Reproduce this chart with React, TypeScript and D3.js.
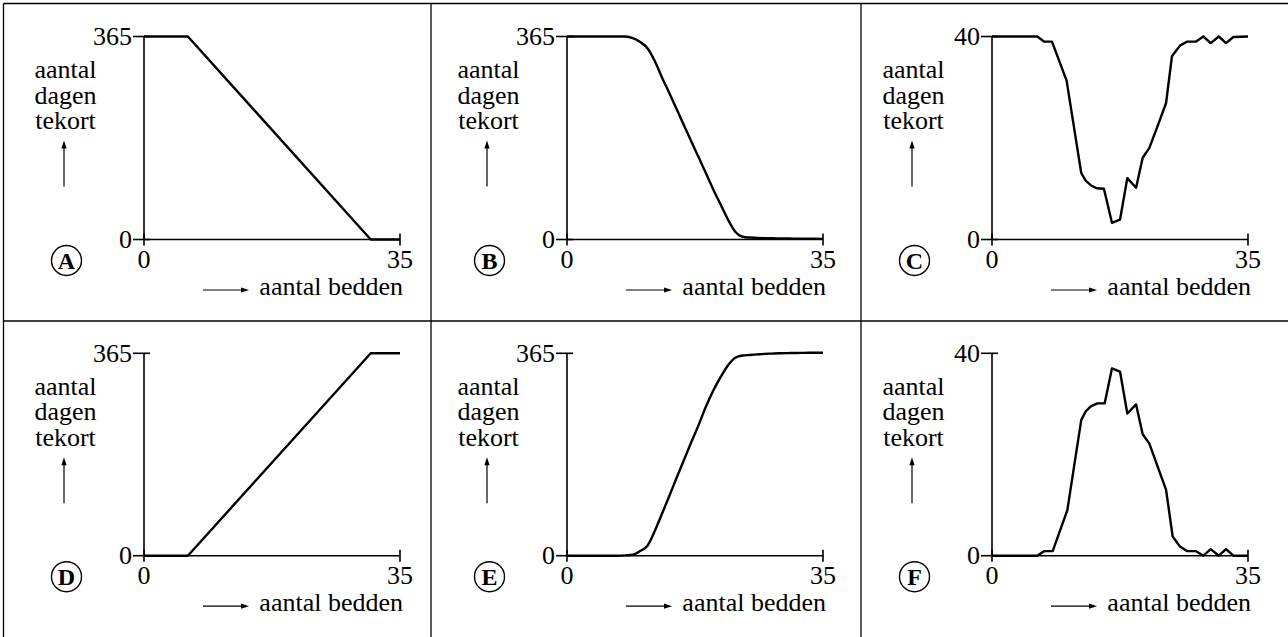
import * as d3 from "d3";

// bedden (x) en dagen tekort (y)
const panelA: [number, number][] = [[0, 365], [6, 365], [31, 0], [35, 0]];
const panelD: [number, number][] = [[0, 0], [6, 0], [31, 365], [35, 365]];

const bedsBE = [0, 1, 2, 3, 4, 5, 6, 7, 8, 9, 10, 11, 12, 13, 14, 15, 16, 17, 18, 19, 20, 21, 22, 23, 24, 25, 26, 27, 28, 29, 30, 31, 32, 33, 34, 35];
const valuesB = [365, 365, 365, 365, 365, 365, 365, 365, 365, 362, 355, 344, 321, 291, 263, 234, 205, 176, 148, 119, 90, 63, 36, 14, 5, 3.5, 3, 2.5, 2.2, 2, 1.8, 1.6, 1.5, 1.4, 1.3, 1.2];
const valuesE = [0, 0, 0, 0, 0, 0, 0, 0, 0.6, 1.8, 8.4, 18, 44.5, 76, 108, 141, 173, 205, 236, 269, 298, 322, 343, 357, 361, 362, 363, 364, 364.5, 365, 365.3, 365.5, 365.7, 366, 366, 366];

const bedsC = [0, 6.2, 7.1, 8.2, 10.2, 12.2, 12.8, 13.5, 14.3, 15.3, 16.4, 17.5, 18.5, 19.7, 20.6, 21.5, 22.6, 23.8, 24.6, 25.7, 26.7, 27.9, 28.9, 29.9, 31, 32, 33, 35];
const valuesC = [40, 40, 39, 39, 31.3, 13.1, 11.6, 10.7, 10.1, 10, 3.3, 3.9, 12.1, 10.2, 16.1, 18, 22.2, 26.9, 36.1, 38.2, 39, 39, 40, 38.7, 40, 38.7, 39.9, 40];

const bedsF = [0, 6.2, 7.1, 8.3, 10.3, 12.2, 12.8, 13.5, 14.4, 15.4, 16.4, 17.5, 18.5, 19.7, 20.6, 21.5, 22.6, 23.8, 24.7, 25.7, 26.7, 27.9, 28.9, 29.9, 31, 32, 33, 35];
const valuesF = [0, 0, 0.9, 0.9, 9, 26.8, 28.5, 29.5, 30.1, 30.1, 37, 36.4, 28.1, 29.9, 24, 22.2, 17.8, 13, 3.8, 1.8, 0.9, 0.9, 0, 1.3, 0, 1.3, 0, 0];

const letters = ["A", "B", "C", "D", "E", "F"];
const maxima = [365, 365, 40, 365, 365, 40];
const xMax = 35;

const zip = (xs: number[], ys: number[]) => xs.map((x, i) => [x, ys[i]] as [number, number]);

const series = [
  panelA,
  zip(bedsBE, valuesB),
  zip(bedsC, valuesC),
  panelD,
  zip(bedsBE, valuesE),
  zip(bedsF, valuesF),
];
const smooth = [false, true, false, false, true, false];

const axisX = [144, 567, 992];
const axisTop = [36.5, 353.3];
const axisBottom = [239.5, 555.7];
const plotW = 256;

const font = "Liberation Serif, Times New Roman, Times, serif";
const fs = 26;
const txt = { fontFamily: font, fontSize: fs };

function Panel({ i }: { i: number }) {
  const col = i % 3;
  const row = Math.floor(i / 3);
  const ox = axisX[col];
  const top = axisTop[row];
  const bot = axisBottom[row];
  const x = d3.scaleLinear().domain([0, xMax]).range([ox, ox + plotW]);
  const y = d3.scaleLinear().domain([0, maxima[i]]).range([bot, top]);
  const line = d3
    .line<[number, number]>()
    .x((d) => x(d[0]))
    .y((d) => y(d[1]))
    .curve(smooth[i] ? d3.curveMonotoneX : d3.curveLinear);

  const yTicks = [0, maxima[i]];
  const xTicks = [0, xMax];
  const ax = ox - 80;
  const arY = bot + 50.5;

  return (
    <g>
      {/* assen */}
      <line x1={x(0)} x2={x(xMax)} y1={y(0)} y2={y(0)} stroke="#000" strokeWidth={1.6} />
      <line x1={x(0)} x2={x(0)} y1={y(0)} y2={y(maxima[i])} stroke="#000" strokeWidth={1.6} />
      {yTicks.map((t) => (
        <g key={"y" + t}>
          <line x1={ox - 11} x2={ox + 6} y1={y(t)} y2={y(t)} stroke="#000" strokeWidth={1.6} />
          <text x={ox - 12} y={y(t) + 8.5} textAnchor="end" style={txt}>
            {t}
          </text>
        </g>
      ))}
      {xTicks.map((t) => (
        <g key={"x" + t}>
          <line x1={x(t)} x2={x(t)} y1={bot - 6} y2={bot + 6} stroke="#000" strokeWidth={1.6} />
          <text x={x(t)} y={bot + 28.5} textAnchor="middle" style={txt}>
            {t}
          </text>
        </g>
      ))}
      <path d={line(series[i]) || ""} fill="none" stroke="#000" strokeWidth={2.4} strokeLinejoin="round" />

      {/* y-label */}
      {["aantal", "dagen", "tekort"].map((w, k) => (
        <text key={w} x={ox - 78.5} y={top + 41.5 + k * 25.5} textAnchor="middle" style={txt}>
          {w}
        </text>
      ))}
      <line x1={ax} x2={ax} y1={top + 150} y2={top + 110} stroke="#000" strokeWidth={1.2} />
      <path d={`M${ax},${top + 104} L${ax - 2.6},${top + 112} L${ax + 2.6},${top + 112} Z`} fill="#000" />

      {/* x-label */}
      <line x1={ox + 59} x2={ox + 98} y1={arY} y2={arY} stroke="#000" strokeWidth={1.2} />
      <path d={`M${ox + 105},${arY} L${ox + 97},${arY - 2.6} L${ox + 97},${arY + 2.6} Z`} fill="#000" />
      <text x={ox + 259} y={bot + 55.5} textAnchor="end" style={txt}>
        aantal bedden
      </text>

      {/* letter */}
      <circle cx={ox - 77.5} cy={bot + 21} r={15} fill="none" stroke="#000" strokeWidth={1.4} />
      <text x={ox - 77.5} y={bot + 29.5} textAnchor="middle" style={{ fontFamily: font, fontSize: 24, fontWeight: "bold" }}>
        {letters[i]}
      </text>
    </g>
  );
}

export default function App() {
  const W = 1288;
  const H = 637;
  return (
    <svg width={W} height={H} style={{ position: "absolute", left: 0, top: 0, background: "#fff" }}>
      <rect x={0} y={0} width={W} height={H} fill="#fff" />
      {/* kaders */}
      <line x1={3.5} x2={W} y1={3.5} y2={3.5} stroke="#000" strokeWidth={1.3} />
      <line x1={3.5} x2={3.5} y1={3.5} y2={H} stroke="#000" strokeWidth={1.3} />
      <line x1={3.5} x2={W} y1={321} y2={321} stroke="#000" strokeWidth={1.3} />
      <line x1={431} x2={431} y1={3.5} y2={H} stroke="#000" strokeWidth={1.3} />
      <line x1={861} x2={861} y1={3.5} y2={H} stroke="#000" strokeWidth={1.3} />
      {letters.map((_, i) => (
        <Panel key={i} i={i} />
      ))}
    </svg>
  );
}
